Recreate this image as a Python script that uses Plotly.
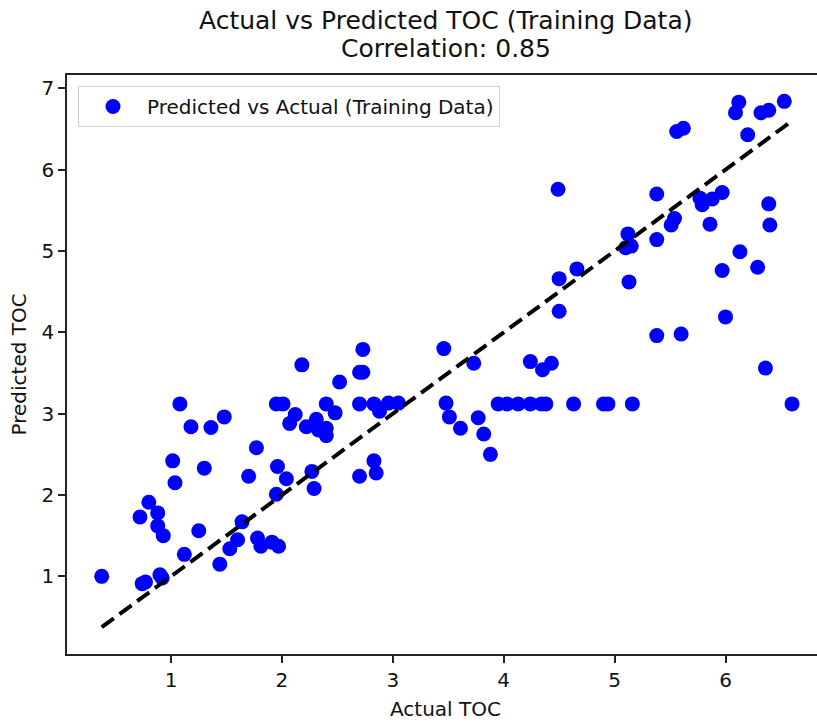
import plotly.graph_objects as go

actual = [0.375, 0.74, 0.77, 0.90, 0.92, 0.72, 0.80, 0.88, 0.88, 0.93,
          1.015, 1.036, 1.08, 1.18, 1.36, 1.48, 1.30, 1.12, 1.25, 1.44,
          1.53, 1.60, 1.64, 1.70, 1.77, 1.78, 1.81, 1.91, 1.97, 1.96,
          1.95, 2.04, 1.95, 2.01, 2.18, 2.12, 2.07, 2.27, 2.29, 2.22,
          2.31, 2.33, 2.40, 2.40, 2.40, 2.48, 2.52, 2.73, 2.70, 2.73,
          2.70, 2.83, 2.88, 2.96, 3.05, 2.70, 2.83, 2.85, 3.46, 3.73,
          3.48, 3.51, 3.61, 3.77, 3.82, 3.88, 3.95, 4.03, 4.13, 4.24,
          4.34, 4.38, 4.24, 4.35, 4.43, 4.63, 4.90, 4.94, 5.16, 5.38,
          5.60, 6.36, 6.60, 4.49, 5.38, 5.56, 5.62, 6.12, 6.09, 6.32,
          6.39, 6.53, 6.20, 5.12, 5.10, 5.15, 5.38, 5.51, 5.54, 5.77,
          5.79, 5.88, 5.97, 5.86, 6.39, 6.40, 6.13, 6.29, 5.97, 6.00,
          4.66, 4.50, 4.50, 5.13]
predicted = [1.00, 0.91, 0.93, 1.02, 0.98, 1.73, 1.91, 1.78, 1.62, 1.50,
             2.42, 2.15, 3.12, 2.84, 2.83, 2.96, 2.33, 1.27, 1.56, 1.15,
             1.34, 1.45, 1.67, 2.23, 2.58, 1.47, 1.37, 1.42, 1.37, 2.35,
             2.01, 2.20, 3.12, 3.12, 3.60, 2.99, 2.88, 2.29, 2.08, 2.84,
             2.93, 2.80, 3.12, 2.82, 2.73, 3.01, 3.39, 3.79, 3.51, 3.51,
             3.12, 3.12, 3.03, 3.13, 3.13, 2.23, 2.42, 2.27, 3.80, 3.62,
             3.13, 2.96, 2.82, 2.95, 2.75, 2.50, 3.12, 3.12, 3.12, 3.12,
             3.12, 3.12, 3.64, 3.54, 3.62, 3.12, 3.12, 3.12, 3.12, 3.96,
             3.98, 3.56, 3.12, 5.76, 5.70, 6.47, 6.51, 6.83, 6.70, 6.70,
             6.73, 6.84, 6.43, 5.21, 5.04, 5.06, 5.14, 5.32, 5.40, 5.65,
             5.57, 5.64, 5.72, 5.33, 5.58, 5.32, 4.99, 4.80, 4.76, 4.19,
             4.78, 4.66, 4.26, 4.62]

x_ticks = [1, 2, 3, 4, 5, 6]
y_ticks = [1, 2, 3, 4, 5, 6, 7]
title_main = "Actual vs Predicted TOC (Training Data)"
title_sub = "Correlation: 0.85"
x_label = "Actual TOC"
y_label = "Predicted TOC"
legend_label = "Predicted vs Actual (Training Data)"

lo, hi = min(actual), max(actual)

FONT = "DejaVu Sans"
TXT = "#111111"
fig = go.Figure()
fig.add_trace(go.Scatter(
    x=actual, y=predicted, mode="markers",
    marker=dict(color="#0000ff", size=15, line=dict(width=0)),
    name=legend_label,
))
fig.add_trace(go.Scatter(
    x=[lo, hi], y=[lo, hi], mode="lines",
    line=dict(color="black", width=4, dash="15px,7px"),
    showlegend=False,
))

W, H = 817, 722
L, R, T, B = 67, 0, 75, 68
PW, PH = W - L - R, H - T - B
AX_CENTER = 445.5  # centre of the (cropped) axes box in px

def px_x(p):
    return (p - L) / PW

def px_y(p):
    return 1 - (p - T) / PH

axis_common = dict(showgrid=False, zeroline=False, showline=True,
                   linecolor="#222", linewidth=1.7, ticks="outside",
                   ticklen=7, tickwidth=1.5, tickcolor="#222",
                   tickfont=dict(size=20, family=FONT, color=TXT))

fig.update_layout(
    width=W, height=H,
    margin=dict(l=L, r=R, t=T, b=B),
    paper_bgcolor="white", plot_bgcolor="white",
    font=dict(family=FONT, color=TXT, size=20),
    showlegend=True,
    legend=dict(x=px_x(78), y=px_y(86), xanchor="left", yanchor="top",
                bgcolor="white", bordercolor="#d0d0d0", borderwidth=1,
                font=dict(size=20, family=FONT, color=TXT),
                itemwidth=58),
    xaxis=dict(range=[0.062, 6.825], tickvals=x_ticks, mirror=True, **axis_common),
    yaxis=dict(range=[0.045, 7.164], tickvals=y_ticks, mirror=False, **axis_common),
    annotations=[
        dict(text=title_main, x=px_x(AX_CENTER), y=px_y(20),
             xref="paper", yref="paper", showarrow=False,
             font=dict(size=25, family=FONT, color=TXT), xanchor="center", yanchor="middle"),
        dict(text=title_sub, x=px_x(AX_CENTER), y=px_y(48),
             xref="paper", yref="paper", showarrow=False,
             font=dict(size=25, family=FONT, color=TXT), xanchor="center", yanchor="middle"),
        dict(text=x_label, x=px_x(AX_CENTER), y=px_y(709),
             xref="paper", yref="paper", showarrow=False,
             font=dict(size=20, family=FONT, color=TXT), xanchor="center", yanchor="middle"),
        dict(text=y_label, x=px_x(18), y=0.5, textangle=-90,
             xref="paper", yref="paper", showarrow=False,
             font=dict(size=20, family=FONT, color=TXT), xanchor="center", yanchor="middle"),
    ],
)
fig.write_html("out.html")
